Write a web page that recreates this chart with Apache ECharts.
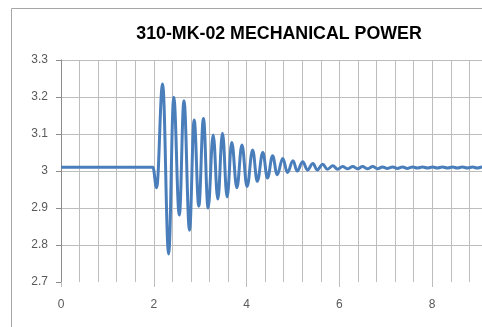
<!DOCTYPE html>
<html>
<head>
<meta charset="utf-8">
<script src="https://cdn.jsdelivr.net/npm/echarts@6/dist/echarts.min.js"></script>
<style>
  html, body { margin: 0; padding: 0; background: #ffffff; }
  #chart { width: 482px; height: 327px; }
</style>
</head>
<body>
<div id="chart"></div>
<script>
// Mechanical power trace: time (s) and power values at each turning point
const chartTitle = '310-MK-02 MECHANICAL POWER';

const times = [
  0, 1.98, 2.06, 2.19, 2.32, 2.43, 2.55, 2.65, 2.77, 2.87, 2.97, 3.07,
  3.17, 3.28, 3.38, 3.48, 3.58, 3.68, 3.79, 3.90, 4.01, 4.13,
  4.23, 4.35, 4.45, 4.56, 4.66, 4.78, 4.88, 5.00, 5.09, 5.21,
  5.31, 5.43, 5.52, 5.64, 5.74, 5.86, 5.96, 6.07, 6.17, 6.29,
  6.39, 6.50, 6.60, 6.72, 6.82, 6.93, 7.03, 7.15, 7.25, 7.36,
  7.46, 7.58, 7.68, 7.79, 7.90, 8.01, 8.11, 8.22, 8.33, 8.44,
  8.54, 8.65, 8.76, 8.87, 8.97, 9.08, 9.19, 9.30
];

const power = [
  3.01, 3.01, 2.955, 3.235, 2.776, 3.199, 2.881, 3.19, 2.84, 3.138, 2.905, 3.142,
  2.90, 3.097, 2.924, 3.102, 2.93, 3.077, 2.955, 3.07, 2.958, 3.057,
  2.972, 3.05, 2.981, 3.041, 2.99, 3.034, 2.996, 3.028, 3.0, 3.025,
  3.003, 3.02, 3.003, 3.018, 3.005, 3.014, 3.005, 3.012, 3.006, 3.012,
  3.006, 3.012, 3.006, 3.012, 3.006, 3.011, 3.007, 3.011, 3.007, 3.011,
  3.007, 3.011, 3.008, 3.011, 3.008, 3.011, 3.008, 3.011, 3.008, 3.011,
  3.008, 3.011, 3.008, 3.011, 3.008, 3.011, 3.008, 3.01
];

// Axis ranges and label steps
const xRange = [0, 10];
const xStep = 2;
const yRange = [2.7, 3.3];
const yStep = 0.1;

const seriesData = times.map((t, i) => [t, power[i]]);

const chart = echarts.init(document.getElementById('chart'), null, { renderer: 'canvas' });

const gridColor = '#bdbdbd';
const labelFont = { color: '#595959', fontSize: 12, fontFamily: 'Liberation Sans, Arial, sans-serif' };

chart.setOption({
  animation: false,
  backgroundColor: '#ffffff',
  graphic: [
    {
      type: 'rect',
      z: -10,
      shape: { x: 11.5, y: 8.5, width: 600, height: 400 },
      style: { fill: 'none', stroke: '#a6a6a6', lineWidth: 1 }
    }
  ],
  title: {
    text: chartTitle,
    left: 274,
    textAlign: 'center',
    top: 20,
    textStyle: {
      fontFamily: 'Liberation Sans, Arial, sans-serif',
      fontWeight: 'bold',
      fontSize: 17.8,
      color: '#000000'
    }
  },
  // the plot area runs on past the right edge of the page
  grid: { left: 61, top: 60, right: -43, bottom: 45, containLabel: false, outerBoundsMode: 'none' },
  xAxis: {
    type: 'value',
    min: xRange[0],
    max: xRange[1],
    interval: xStep,
    axisLine: { show: false },
    axisTick: { show: true, length: 5, lineStyle: { color: gridColor } },
    minorTick: { show: false, splitNumber: 5 },
    axisLabel: Object.assign({ margin: 17 }, labelFont),
    splitLine: { show: true, lineStyle: { color: gridColor, width: 1 } },
    minorSplitLine: { show: true, lineStyle: { color: gridColor, width: 1 } }
  },
  yAxis: {
    type: 'value',
    min: yRange[0],
    max: yRange[1],
    interval: yStep,
    axisLine: { show: true, lineStyle: { color: '#8c8c8c', width: 1 } },
    axisTick: { show: true, length: 5, lineStyle: { color: '#8c8c8c' } },
    axisLabel: Object.assign({
      margin: 13,
      formatter: v => String(Math.round(v * 10) / 10)
    }, labelFont),
    splitLine: { show: true, showMinLine: false, lineStyle: { color: gridColor, width: 1 } }
  },
  series: [
    {
      type: 'line',
      data: seriesData,
      showSymbol: false,
      smooth: 0.4,
      smoothMonotone: 'x',
      clip: true,
      lineStyle: { color: '#4a7ebb', width: 3 }
    }
  ]
});
</script>
</body>
</html>
